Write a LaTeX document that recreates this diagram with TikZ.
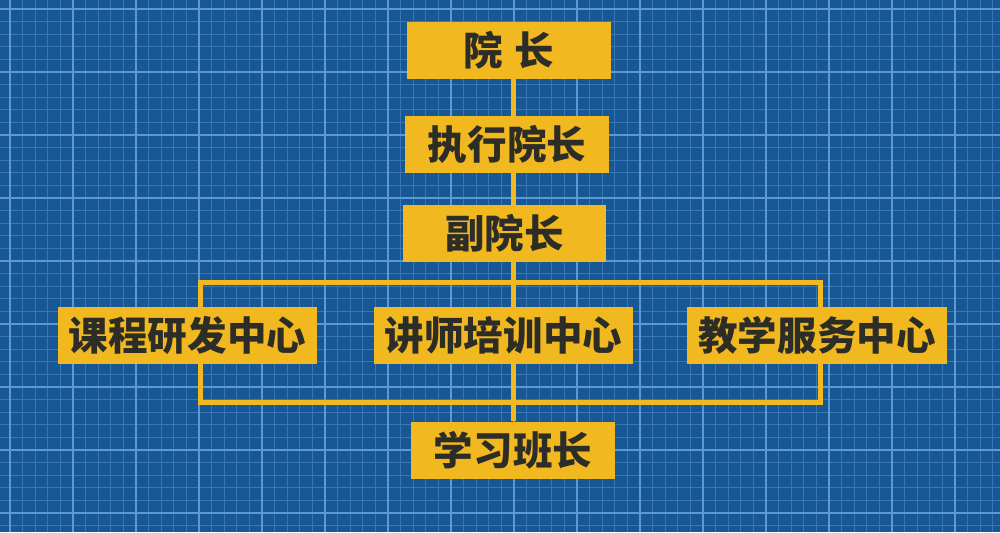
\documentclass[tikz,border=0pt]{standalone}
\usepackage{fontspec}
\newfontfamily\cjk{Noto Sans CJK SC}
\usetikzlibrary{backgrounds,calc}
\definecolor{paper}{RGB}{22,87,148}
\definecolor{gridmajor}{RGB}{92,152,212}
\definecolor{gridminor}{RGB}{56,118,182}
\definecolor{boxfill}{RGB}{242,184,32}
\definecolor{boxtext}{RGB}{45,45,40}
\tikzset{
    office/.style = {fill=boxfill, rectangle, inner sep=0pt,
        minimum height=1.14cm, minimum width=4.08cm,
        text=boxtext, font=\cjk\bfseries\fontsize{22.5}{26}\selectfont},
    centre/.style = {office, minimum width=5.2cm},
    link/.style = {draw=boxfill, line width=0.1cm},
    minor/.style = {draw=gridminor, line width=0.45pt},
    major/.style = {draw=gridmajor, line width=1.1pt}
}

\begin{document}
\begin{tikzpicture}[x=0.02cm, y=-0.02cm]
    \useasboundingbox (0,0) rectangle (1000,532);
        \node [office] (yuanzhang) at (509,50.5) {院\hspace{0.3em}长};
        \node [office] (zhixing) at (507,144.5) {执行院长};
        \node [office] (fuyuan) at (504.5,233.5) {副院长};
        \node [centre] (kecheng) at (187.5,335) {课程研发中心};
        \node [centre] (jiangshi) at (503.5,335) {讲师培训中心};
        \node [centre] (jiaoxue) at (817,335) {教学服务中心};
        \node [office] (banzhang) at (513,450) {学习班长};
        \coordinate (spine) at (513,0);
        \coordinate (frame nw) at (200,282);
        \coordinate (frame se) at (820,402);
    \begin{scope}[on background layer]
        % blueprint grid
        \fill [paper] (0,0) rectangle (1000,532);
        \foreach \i in {0,...,80}
            \draw [minor] ({-2.6+12.6*\i},0) -- ({-2.6+12.6*\i},532);
        \foreach \j in {0,...,43}
            \draw [minor] (0,{-3.6+12.6*\j}) -- (1000,{-3.6+12.6*\j});
        \foreach \i in {0,...,15}
            \draw [major] ({10+63*\i},0) -- ({10+63*\i},532);
        \foreach \j in {0,...,8}
            \draw [major] (0,{9+63*\j}) -- (1000,{9+63*\j});
        % connectors
        \draw [link] (yuanzhang.south -| spine) -- (banzhang.north -| spine);
        \draw [link] (frame nw) rectangle (frame se);
    \end{scope}
\end{tikzpicture}
\end{document}
